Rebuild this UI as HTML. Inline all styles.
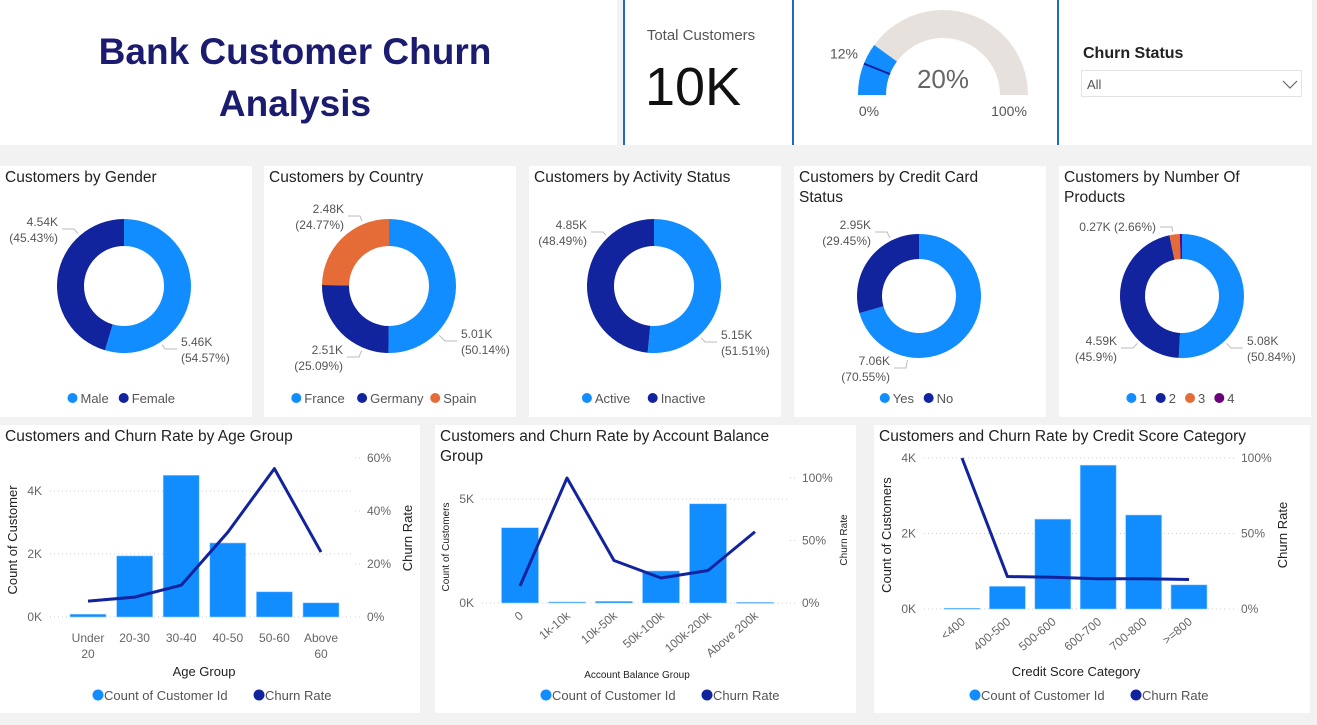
<!DOCTYPE html>
<html><head><meta charset="utf-8">
<style>
body{margin:0;background:#f2f2f2;width:1317px;height:720px;overflow:hidden;font-family:"Liberation Sans",sans-serif;}
svg text{font-family:"Liberation Sans",sans-serif;}
</style></head>
<body>
<svg id="root" width="1317" height="720" viewBox="0 0 1317 720">
<rect x="0" y="0" width="1317" height="720" fill="#f2f2f2"/>
<rect x="0" y="0" width="617" height="145" fill="#fff"/>
<text x="295" y="64" text-anchor="middle" font-size="37" font-weight="bold" fill="#1b1b6f">Bank Customer Churn</text>
<text x="295" y="116" text-anchor="middle" font-size="37" font-weight="bold" fill="#1b1b6f">Analysis</text>
<rect x="623" y="0" width="170" height="145" fill="#fff"/>
<rect x="623" y="0" width="2" height="145" fill="#1f6bbf"/>
<text x="701" y="40" text-anchor="middle" font-size="15" fill="#555">Total Customers</text>
<text x="693" y="105" text-anchor="middle" font-size="54" fill="#111">10K</text>
<rect x="793" y="0" width="265" height="145" fill="#fff"/>
<rect x="792" y="0" width="2" height="145" fill="#1f6bbf"/>
<g id="gauge"></g>
<rect x="1059" y="0" width="253" height="145" fill="#fff"/>
<rect x="1057" y="0" width="2" height="145" fill="#1f6bbf"/>
<text x="1083" y="58" font-size="16" font-weight="bold" fill="#222">Churn Status</text>
<g>
<rect x="1081.5" y="70.5" width="220" height="26" fill="#fff" stroke="#e3e3e3"/>
<text x="1087" y="89" font-size="13" fill="#555">All</text>
<path d="M1283 81 L1290 88 L1297 81" fill="none" stroke="#666" stroke-width="1.2"/>
</g>
<g id="donuts"></g>
<g id="combos"></g>
</svg>
<script>
const NS="http://www.w3.org/2000/svg";
const root=document.getElementById('root');
function el(tag,attrs,parent){const e=document.createElementNS(NS,tag);for(const k in attrs)e.setAttribute(k,attrs[k]);(parent||root).appendChild(e);return e;}
function txt(s,attrs,parent){const e=el('text',attrs,parent);e.textContent=s;return e;}
const C1="#118DFF",C2="#12239E",C3="#E66C37",C4="#6B007B";

const gaugeValue=20, gaugeTarget=12, gaugeMin=0, gaugeMax=100;
(function(){
 const g=document.getElementById('gauge');
 const cx=943,cy=95,ro=85,ri=57;
 function arc(a0,a1,col,name){
  const t0=Math.PI*(1-a0),t1=Math.PI*(1-a1);
  const p=(r,t)=>[cx+r*Math.cos(t),cy-r*Math.sin(t)];
  const [x0,y0]=p(ro,t0),[x1,y1]=p(ro,t1),[x2,y2]=p(ri,t1),[x3,y3]=p(ri,t0);
  const e=el('path',{d:`M${x0} ${y0} A${ro} ${ro} 0 0 1 ${x1} ${y1} L${x2} ${y2} A${ri} ${ri} 0 0 0 ${x3} ${y3}Z`,fill:col},g);
  
  
 }
 const f=v=>(v-gaugeMin)/(gaugeMax-gaugeMin);
 arc(0,1,"#E6E1DC",'gauge-track');
 arc(0,f(gaugeValue),C1,'gauge-fill');
 const t=Math.PI*(1-f(gaugeTarget));
 el('line',{x1:cx+ri*Math.cos(t),y1:cy-ri*Math.sin(t),x2:cx+ro*Math.cos(t),y2:cy-ro*Math.sin(t),stroke:C2,'stroke-width':2},g);
 txt(gaugeValue+'%',{x:cx,y:88,'text-anchor':'middle','font-size':26,fill:'#666'},g);
 txt(gaugeTarget+'%',{x:cx+ro*Math.cos(t)-6,y:cy-ro*Math.sin(t)-5,'text-anchor':'end','font-size':14,fill:'#555'},g);
 txt(gaugeMin+'%',{x:869,y:116,'text-anchor':'middle','font-size':14,fill:'#555'},g);
 txt(gaugeMax+'%',{x:1009,y:116,'text-anchor':'middle','font-size':14,fill:'#555'},g);
})();

const genderCats=["Male","Female"], genderVals=[5457,4543];
const countryCats=["France","Germany","Spain"], countryVals=[5014,2509,2477];
const activityCats=["Active","Inactive"], activityVals=[5151,4849];
const cardCats=["Yes","No"], cardVals=[7055,2945];
const productCats=["1","2","3","4"], productVals=[5084,4590,266,60];

// label layout (positions only): [x, y, right-side?]
const genderLbl=[[181,346,1],[58,226,0]];
const countryLbl=[[461,338,1],[343,354,0],[344,213,0]];
const activityLbl=[[721,339,1],[587,229,0]];
const cardLbl=[[890,365,0],[871,229,0]];
const productLbl=[[1247,345,1],[1117,345,0],[1156,231,0],null];

function fmtK(v){return (Math.round(v/10)/100).toFixed(2)+'K';}
function donut(px,title,cats,vals,cx,cy,ro,ri,name,lbl,inlineLbl){
 const g=el('g',{},document.getElementById('donuts'));
 
 
 el('rect',{x:px,y:166,width:252,height:251,fill:'#fff'},g);
 title.forEach((t,i)=>txt(t,{x:px+5,y:182+i*20,'font-size':15.5,fill:'#222'},g));
 const cols=[C1,C2,C3,C4];
 const tot=vals.reduce((a,b)=>a+b,0);let acc=0;
 vals.forEach((v,i)=>{
  const a0=acc/tot*2*Math.PI,a1=(acc+v)/tot*2*Math.PI;acc+=v;
  const p=(r,a)=>[cx+r*Math.sin(a),cy-r*Math.cos(a)];
  const large=(a1-a0)>Math.PI?1:0;
  const [x0,y0]=p(ro,a0),[x1,y1]=p(ro,a1),[x2,y2]=p(ri,a1),[x3,y3]=p(ri,a0);
  const s=el('path',{d:`M${x0} ${y0} A${ro} ${ro} 0 ${large} 1 ${x1} ${y1} L${x2} ${y2} A${ri} ${ri} 0 ${large} 0 ${x3} ${y3}Z`,fill:cols[i]},g);
  
  
  const L=lbl[i]; if(!L)return;
  const tx=L[0],ty=L[1],right=L[2]===1;
  const inl=inlineLbl&&inlineLbl[i];
  const ey=inl?ty-4:ty+3;
  const ex=tx+(right?-4:4);
  const ex2=ex+(right?-12:12);
  const d=Math.atan2(ey-cy,ex2-cx);
  const px2=cx+(ro+3)*Math.cos(d),py2=cy+(ro+3)*Math.sin(d);
  el('polyline',{points:`${px2},${py2} ${ex2},${ey} ${ex},${ey}`,fill:'none',stroke:'#bbb'},g);
  const k=fmtK(v),pc='('+(+(v/tot*100).toFixed(2))+'%)';
  const an=right?'start':'end';
  if(inl){txt(k+' '+pc,{x:tx,y:ty,'text-anchor':an,'font-size':12,fill:'#555'},g);}
  else{txt(k,{x:tx,y:ty,'text-anchor':an,'font-size':12,fill:'#555'},g);
  txt(pc,{x:tx,y:ty+16,'text-anchor':an,'font-size':12,fill:'#555'},g);}
 });
 const lg=el('g',{},g);
 
 
 let w=0;const items=cats.map(c=>{const iw=14+c.length*7.3+8;w+=iw;return iw;});
 let x=px+126-w/2;
 cats.forEach((c,i)=>{el('circle',{cx:x+5,cy:398,r:5,fill:cols[i]},lg);txt(c,{x:x+13,y:403,'font-size':13,fill:'#555'},lg);x+=items[i];});
}
donut(0,["Customers by Gender"],genderCats,genderVals,124,286,67,40,'gender-donut',genderLbl);
donut(264,["Customers by Country"],countryCats,countryVals,389,286,67,40,'country-donut',countryLbl);
donut(529,["Customers by Activity Status"],activityCats,activityVals,654,286,67,40,'activity-donut',activityLbl);
donut(794,["Customers by Credit Card","Status"],cardCats,cardVals,919,296,62,37,'credit-card-donut',cardLbl);
donut(1059,["Customers by Number Of","Products"],productCats,productVals,1182,296,62,37,'products-donut',productLbl,[false,false,true,false]);

const ageCats=["Under 20","20-30","30-40","40-50","50-60","Above 60"];
const ageCounts=[89,1940,4500,2350,800,450];
const ageChurn=[6,7.5,12,32,56,24.5];
const ageLeftTicks=[0,2000,4000], ageLeftLabels=["0K","2K","4K"];
const ageRightTicks=[0,20,40,60], ageRightLabels=["0%","20%","40%","60%"];

const balCats=["0","1k-10k","10k-50k","50k-100k","100k-200k","Above 200k"];
const balCounts=[3620,50,80,1540,4770,30];
const balChurn=[13.6,100,34,20,26,57];
const balLeftTicks=[0,5000], balLeftLabels=["0K","5K"];
const balRightTicks=[0,50,100], balRightLabels=["0%","50%","100%"];

const csCats=["<400","400-500","500-600","600-700","700-800",">=800"];
const csCounts=[20,600,2380,3810,2490,640];
const csChurn=[100,21.5,21,20,20,19.5];
const csLeftTicks=[0,2000,4000], csLeftLabels=["0K","2K","4K"];
const csRightTicks=[0,50,100], csRightLabels=["0%","50%","100%"];

function combo(o){
 const g=el('g',{},document.getElementById('combos'));
 
 
 el('rect',{x:o.px,y:425,width:o.pw,height:288,fill:'#fff'},g);
 o.title.forEach((t,i)=>txt(t,{x:o.px+5,y:441+i*20,'font-size':15.5,fill:'#222'},g));
 const yL=v=>o.y0-v/o.lMax*o.lH, yR=v=>o.y0-v/o.rMax*o.rH;
 const xC=i=>o.x0+o.step*i;
 o.lT.forEach((v,i)=>{el('line',{x1:o.gx0,x2:o.gx1,y1:yL(v),y2:yL(v),stroke:'#ccc','stroke-dasharray':'1 3'},g);
  txt(o.lL[i],{x:o.gx0-8,y:yL(v)+4,'text-anchor':'end','font-size':12,fill:'#666'},g);});
 o.rT.forEach((v,i)=>{el('line',{x1:o.gx1+2,x2:o.gx1+10,y1:yR(v),y2:yR(v),stroke:'#ccc','stroke-dasharray':'1 3'},g);
  txt(o.rL[i],{x:o.gx1+14,y:yR(v)+4,'font-size':12,fill:'#666'},g);});
 o.counts.forEach((v,i)=>{const b=el('rect',{x:xC(i)-o.bw/2,y:yL(v),width:o.bw,height:Math.max(o.y0-yL(v),1),fill:C1,stroke:'#9fd0ff','stroke-width':0.6},g);
  
  });
 const ln=el('polyline',{points:o.churn.map((v,i)=>xC(i)+','+yR(v)).join(' '),fill:'none',stroke:C2,'stroke-width':3,'stroke-linejoin':'round'},g);
 
 
 o.cats.forEach((c,i)=>{
  if(o.rot){txt(c,{x:xC(i)+4,y:o.y0+14,'text-anchor':'end','font-size':o.xfs,fill:'#666',transform:`rotate(-40 ${xC(i)+4} ${o.y0+14})`},g);}
  else{const parts=c.indexOf(' ')>0&&c.length>6?c.split(' '):[c];parts.forEach((p,j)=>txt(p,{x:xC(i),y:o.y0+25+j*16,'text-anchor':'middle','font-size':12,fill:'#666'},g));}
 });
 const lt=txt(o.lTitle,{x:o.ltx,y:o.lty,'text-anchor':'middle','font-size':o.afs,fill:'#222',transform:`rotate(-90 ${o.ltx} ${o.lty})`},g);
 
 
 const rt=txt('Churn Rate',{x:o.rtx,y:o.rty,'text-anchor':'middle','font-size':o.afs,fill:'#222',transform:`rotate(-90 ${o.rtx} ${o.rty})`},g);
 
 
 const xt=txt(o.xTitle,{x:o.xtx,y:o.xty,'text-anchor':'middle','font-size':o.afs,fill:'#222'},g);
 
 
 const lg=el('g',{},g);
 
 
 const lx=o.legx;
 el('circle',{cx:lx,cy:695,r:5.5,fill:C1},lg);txt('Count of Customer Id',{x:lx+6,y:700,'font-size':13,fill:'#555'},lg);
 el('circle',{cx:lx+161,cy:695,r:5.5,fill:C2},lg);txt('Churn Rate',{x:lx+167,y:700,'font-size':13,fill:'#555'},lg);
}
combo({name:'age-group-chart',px:0,pw:420,title:["Customers and Churn Rate by Age Group"],cats:ageCats,counts:ageCounts,churn:ageChurn,
 lT:ageLeftTicks,lL:ageLeftLabels,rT:ageRightTicks,rL:ageRightLabels,y0:617,lMax:4000,lH:126,rMax:60,rH:159,
 x0:88,step:46.6,bw:36,gx0:50,gx1:353,rot:false,lTitle:'Count of Customer',ltx:17,lty:540,rtx:412,rty:538,afs:13,
 xTitle:'Age Group',xtx:204,xty:676,legx:98});
combo({name:'balance-group-chart',px:435,pw:421,title:["Customers and Churn Rate by Account Balance","Group"],cats:balCats,counts:balCounts,churn:balChurn,
 lT:balLeftTicks,lL:balLeftLabels,rT:balRightTicks,rL:balRightLabels,y0:603,lMax:5000,lH:104,rMax:100,rH:125,
 x0:520,step:47,bw:37,gx0:482,gx1:788,rot:true,xfs:12,lTitle:'Count of Customers',ltx:449,lty:547,rtx:847,rty:540,afs:10,
 xTitle:'Account Balance Group',xtx:637,xty:678,legx:546});
combo({name:'credit-score-chart',px:874,pw:436,title:["Customers and Churn Rate by Credit Score Category"],cats:csCats,counts:csCounts,churn:csChurn,
 lT:csLeftTicks,lL:csLeftLabels,rT:csRightTicks,rL:csRightLabels,y0:609,lMax:4000,lH:151,rMax:100,rH:151,
 x0:962,step:45.4,bw:36,gx0:924,gx1:1227,rot:true,xfs:12,lTitle:'Count of Customers',ltx:891,lty:535,rtx:1287,rty:535,afs:13,
 xTitle:'Credit Score Category',xtx:1076,xty:676,legx:975});
</script>
</body></html>
